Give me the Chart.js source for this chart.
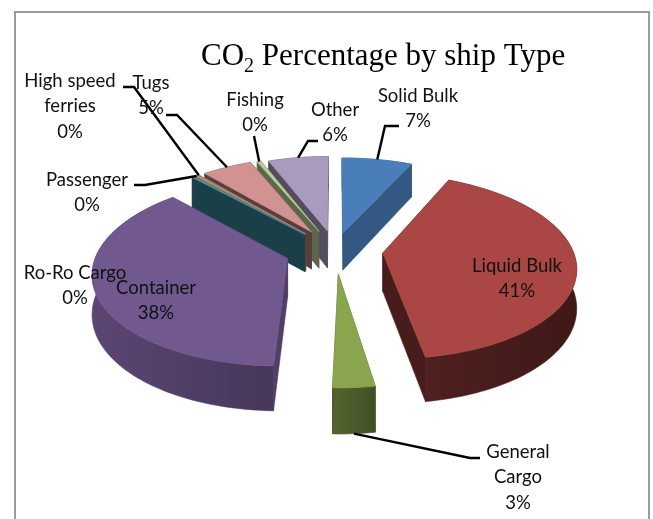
<!DOCTYPE html>
<html><head><meta charset="utf-8">
<script src="https://cdn.jsdelivr.net/npm/chart.js@4"></script>
<style>
html,body{margin:0;padding:0;background:#fff;width:653px;height:519px;overflow:hidden}
#frame{position:absolute;left:14px;top:11px;width:636px;height:520px;border:2px solid #9a9a9a;box-sizing:border-box}
#wrap{position:absolute;left:0;top:0;width:653px;height:519px}
canvas{display:block}
</style></head><body>
<div id="frame"></div>
<div id="wrap"><canvas id="c" width="653" height="519"></canvas></div>
<script>
const categories=["Solid Bulk","Liquid Bulk","General Cargo","Container","Ro-Ro Cargo","Passenger","High speed ferries","Tugs","Fishing","Other"];
const co2Values=[7,41,3,38,0.3,0.3,0.1,5,0.4,6];
const sliceColors=["#4a7ebb","#aa4643","#89a54e","#71588f","#4198af","#db843d","#93a9cf","#d19392","#b9cd96","#a99bbd"];
const wallShades=[0.7,0.42,0.55,0.72,0.42,0.5,0.5,0.42,0.5,0.5];
const explode=[38,48,50,50,46,46,46,46,44,42];
const labelLines=[["Solid Bulk"],["Liquid Bulk"],["General","Cargo"],["Container"],["Ro-Ro Cargo"],["Passenger"],["High speed","ferries"],["Tugs"],["Fishing"],["Other"]];
const labelCenters=[[418,96],[517,266],[518,452],[156,288],[75,273],[87,180],[70,81],[151,83],[255,100],[335,110]];
const leaderStubs=[[[399,126],[385,126]],null,[[480,458],[470,458]],null,null,[[134,185],[145,185]],[[123,87],[134,87]],[[166,115],[177,115]],[[254,136],[254,136]],[[318,141],[308,141]]];
const LINE_H=25.5, DEPTH=38, PERSP=0.14, TILT=0.473;

function shade(hex,f){const n=parseInt(hex.slice(1),16);
  return `rgb(${(n>>16&255)*f|0},${(n>>8&255)*f|0},${(n&255)*f|0})`;}

const pie3d={id:'pie3d',
  beforeDatasetsDraw(chart){
    const ctx=chart.ctx, arcs=chart.getDatasetMeta(0).data, total=co2Values.reduce((a,b)=>a+b,0);
    const R=arcs[0].outerRadius, cx=arcs[0].x, cy=arcs[0].y;
    const proj=(X,Yc,z)=>{const s=1/(1+PERSP*Yc/R);return [cx+X*s, cy-Yc*TILT*s+z*s];};
    const geo=arcs.map((el,i)=>{
      const a0=el.startAngle,a1=el.endAngle,mid=(a0+a1)/2,o=el.options.offset;
      const ox=o*Math.cos(mid),oy=o*Math.sin(mid);
      const pt=(r,a,z)=>proj(ox+r*Math.cos(a),-(oy+r*Math.sin(a)),z);
      const n=Math.max(2,Math.ceil((a1-a0)/0.03));
      const angs=[];for(let k=0;k<=n;k++)angs.push(a0+(a1-a0)*k/n);
      return {i,el,mid,pt,angs,a0,a1,depth:-(oy+R*0.6*Math.sin(mid))};
    });
    const poly=(pts,fill)=>{ctx.beginPath();pts.forEach((p,k)=>k?ctx.lineTo(p[0],p[1]):ctx.moveTo(p[0],p[1]));ctx.closePath();
      ctx.fillStyle=fill;ctx.fill();ctx.strokeStyle=fill;ctx.lineWidth=0.6;ctx.stroke();};
    [...geo].sort((a,b)=>b.depth-a.depth).forEach(g=>{
      const col=g.el.options.backgroundColor, f=wallShades[g.i];
      const topArc=g.angs.map(a=>g.pt(R,a,0)), botArc=g.angs.map(a=>g.pt(R,a,DEPTH));
      const A=g.pt(0,0,0),B=g.pt(0,0,DEPTH);
      const walls=[
        {pts:[A,topArc[0],botArc[0],B],d:g.pt(R*.5,g.a0,0)},
        {pts:[A,topArc[topArc.length-1],botArc[botArc.length-1],B],d:g.pt(R*.5,g.a1,0)}
      ].sort((p,q)=>p.d[1]-q.d[1]);
      poly(walls[0].pts,shade(col,f));
      const xs=topArc.map(p=>p[0]),x0=Math.min(...xs),x1=Math.max(...xs);
      let fill=shade(col,f);
      if(x1>x0+5){const gr=ctx.createLinearGradient(x0,0,x1,0);gr.addColorStop(0,shade(col,f*1.12));gr.addColorStop(1,shade(col,f*0.88));fill=gr;}
      poly(topArc.concat(botArc.slice().reverse()),fill);
      poly(walls[1].pts,shade(col,f));
      poly([A,...topArc],col);
    });
    ctx.strokeStyle='#000';ctx.lineWidth=2.4;
    geo.forEach(g=>{const st=leaderStubs[g.i];if(!st)return;
      const bottom=g.i===2;
      const e=g.pt(R,g.mid,bottom?DEPTH:0);
      ctx.beginPath();ctx.moveTo(st[0][0],st[0][1]);ctx.lineTo(st[1][0],st[1][1]);ctx.lineTo(e[0],e[1]);ctx.stroke();});
    ctx.fillStyle='#111';ctx.textAlign='center';ctx.textBaseline='middle';ctx.font='18.5px Lato';
    categories.forEach((c,i)=>{const lines=[...labelLines[i],Math.round(co2Values[i]/total*100)+'%'];
      lines.forEach((t,k)=>ctx.fillText(t,labelCenters[i][0],labelCenters[i][1]+k*LINE_H));});
    ctx.fillStyle='#000';ctx.textAlign='left';ctx.textBaseline='alphabetic';
    ctx.font='31px "Liberation Serif"';ctx.fillText('CO',201,65);
    let x=201+ctx.measureText('CO').width;
    ctx.font='20px "Liberation Serif"';ctx.fillText('2',x,72);x+=ctx.measureText('2').width;
    ctx.font='31px "Liberation Serif"';ctx.fillText(' Percentage by ship Type',x,65);
    return false;
  }};

new Chart(document.getElementById('c'),{
  type:'pie',
  data:{labels:categories,datasets:[{data:co2Values,backgroundColor:sliceColors,offset:explode,borderWidth:0}]},
  options:{responsive:false,animation:false,rotation:0,radius:190,
    layout:{padding:{left:17,right:0,top:0,bottom:19}},
    events:[],plugins:{legend:{display:false},tooltip:{enabled:false},title:{display:false}}},
  plugins:[pie3d]
});
</script>
</body></html>
